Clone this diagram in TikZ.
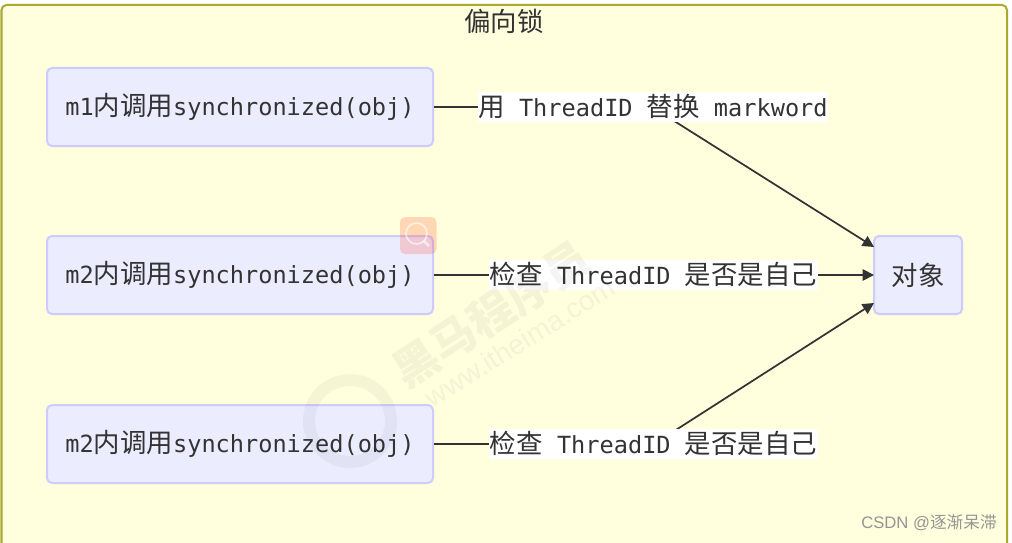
\documentclass[tikz,border=0pt]{standalone}
\usepackage{fontspec}
\usepackage{tikz}
\usetikzlibrary{arrows.meta}
\setmainfont{DejaVu Sans Mono}
\newfontfamily\cjk[Scale=1.12]{Noto Sans CJK SC}
\newfontfamily\marksans{Liberation Sans}
\newcommand{\zh}[1]{{\cjk #1}}
\definecolor{frameFill}{HTML}{FFFFDE}
\definecolor{frameLine}{HTML}{AAAA33}
\definecolor{boxFill}{HTML}{ECECFF}
\definecolor{boxLine}{HTML}{CCCCFF}
\definecolor{inkC}{HTML}{333333}
\tikzset{
  callbox/.style={draw=boxLine,fill=boxFill,line width=1.5pt,rounded corners=3.75pt,text=inkC,
    minimum width=289.5pt,minimum height=58.5pt,inner sep=0pt,font=\fontsize{17.7}{22}\selectfont},
  edgelabel/.style={fill=white,text=inkC,inner xsep=0.6pt,inner ysep=0pt,
    minimum height=22.5pt,font=\fontsize{17.7}{22}\selectfont},
  stamp/.style={black,opacity=0.045,inner sep=0pt}
}
\begin{document}
\begin{tikzpicture}[x=0.75pt,y=-0.75pt,>={Triangle[length=8.5pt,width=8.5pt]}]
\clip (0,0) rectangle (1012,542);
\draw[frameLine,fill=frameFill,line width=1.5pt,rounded corners=3.75pt] (1.5,5) rectangle (1007,570);
\node[text=inkC,inner sep=0pt,font=\fontsize{17.7}{22}\selectfont] (title) at (504,21) {\zh{偏向锁}};
\node[callbox] (callA) at (240,107) {m1\zh{内调用}synchronized(obj)};
\node[callbox] (callB) at (240,275) {m2\zh{内调用}synchronized(obj)};
\node[callbox] (callC) at (240,444) {m2\zh{内调用}synchronized(obj)};
\node[callbox,minimum width=66pt] (obj) at (918,275) {\zh{对象}};
\coordinate (kneeA) at (652,107); \coordinate (kneeC) at (654,444);
\coordinate (inA) at (874,247); \coordinate (inB) at (874,275); \coordinate (inC) at (874,303);
\draw[->,inkC,line width=1.3pt] (callA.east)--(kneeA)--(inA);
\draw[->,inkC,line width=1.3pt] (callB.east)--(inB);
\draw[->,inkC,line width=1.3pt] (callC.east)--(kneeC)--(inC);
\node[edgelabel] (swap) at (653,106.5) {\zh{用} ThreadID \zh{替换} markword};
\node[edgelabel] (checkB) at (653.5,274.5) {\zh{检查} ThreadID \zh{是否是自己}};
\node[edgelabel] (checkC) at (653.5,443.5) {\zh{检查} ThreadID \zh{是否是自己}};
% faint stamps over the picture
\node[stamp,rotate=33,font=\cjk\bfseries\fontsize{30}{34}\selectfont] (brand) at (491,314) {黑马程序员};
\node[stamp,rotate=32,font=\marksans\fontsize{21}{24}\selectfont] (site) at (520,342) {www.itheima.com};
\draw[black,opacity=0.04,line width=9pt] (350,421) circle (41);
\fill[red!70!orange,opacity=0.18,rounded corners=3.75pt] (400,217) rectangle (436.5,254);
\draw[white,opacity=0.6,line width=1.3pt] (416.5,233.5) circle (10.5);
\draw[white,opacity=0.6,line width=2pt] (424,241)--(429,246);
\node[text=black!42,inner sep=0pt,anchor=east,font=\marksans\fontsize{12.5}{15}\selectfont] (csdn) at (997,523) {CSDN @{\fontspec[Scale=1]{Noto Sans CJK SC}逐渐呆滞}};
\end{tikzpicture}
\end{document}
